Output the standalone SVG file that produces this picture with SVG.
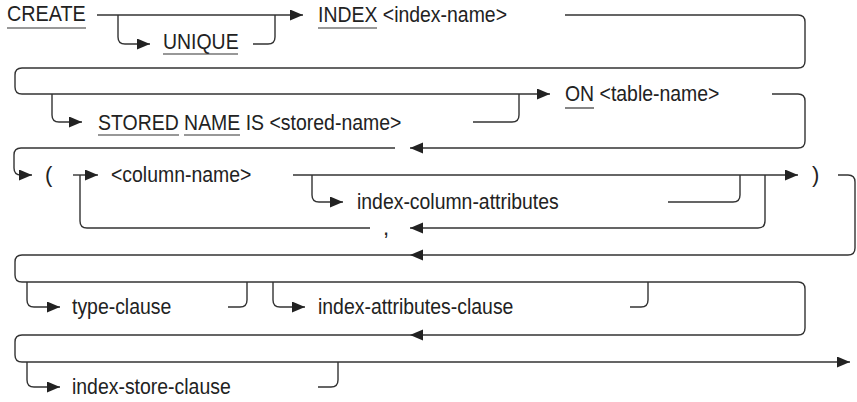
<svg xmlns="http://www.w3.org/2000/svg" width="857" height="402" viewBox="0 0 857 402">
<style>
.ln{fill:none;stroke:#333;stroke-width:1.4}
.ul{stroke:#333;stroke-width:1.2}
text{font-family:"Liberation Sans",Arial,sans-serif;font-size:22px;fill:#222}
</style>
<defs>
<marker id="ah" markerUnits="userSpaceOnUse" markerWidth="14" markerHeight="12" refX="13" refY="5.5" orient="auto"><path d="M0,0 L13,5.5 L0,11 z" fill="#222"/></marker>
</defs>
<rect width="857" height="402" fill="#fff"/>
<g id="connectors">
<path class="ln" d="M97 15 L303 15" marker-end="url(#ah)"/>
<path class="ln" d="M118 15 L118 37 Q118 44 125 44 L150 44" marker-end="url(#ah)"/>
<path class="ln" d="M253 44 L268 44 Q275 44 275 37 L275 15"/>
<path class="ln" d="M565 15 L798 15 Q805 15 805 22 L805 61 Q805 68 798 68 L22 68 Q15 68 15 75 L15 87 Q15 94 22 94 L550 94" marker-end="url(#ah)"/>
<path class="ln" d="M52 94 L52 115 Q52 122 59 122 L82 122" marker-end="url(#ah)"/>
<path class="ln" d="M473 122 L512 122 Q519 122 519 115 L519 94"/>
<path class="ln" d="M772 94 L798 94 Q805 94 805 101 L805 141 Q805 148 798 148 L410 148" marker-end="url(#ah)"/>
<path class="ln" d="M395 148 L21 148 Q14 148 14 155 L14 168 Q14 175 21 175 L32 175" marker-end="url(#ah)"/>
<path class="ln" d="M73 175 L98 175" marker-end="url(#ah)"/>
<path class="ln" d="M80 175 L80 221 Q80 228 87 228 L370 228"/>
<path class="ln" d="M765 175 L765 221 Q765 228 758 228 L410 228" marker-end="url(#ah)"/>
<path class="ln" d="M293 175 L798 175" marker-end="url(#ah)"/>
<path class="ln" d="M312 175 L312 195 Q312 202 319 202 L343 202" marker-end="url(#ah)"/>
<path class="ln" d="M668 202 L733 202 Q740 202 740 195 L740 175"/>
<path class="ln" d="M838 175 L848 175 Q855 175 855 182 L855 248 Q855 255 848 255 L410 255" marker-end="url(#ah)"/>
<path class="ln" d="M410 255 L22 255 Q15 255 15 262 L15 275 Q15 282 22 282 L798 282 Q805 282 805 289 L805 328 Q805 335 798 335 L410 335" marker-end="url(#ah)"/>
<path class="ln" d="M27 282 L27 300 Q27 307 34 307 L60 307" marker-end="url(#ah)"/>
<path class="ln" d="M228 307 L240 307 Q247 307 247 300 L247 282"/>
<path class="ln" d="M273 282 L273 300 Q273 307 280 307 L305 307" marker-end="url(#ah)"/>
<path class="ln" d="M630 307 L641 307 Q648 307 648 300 L648 282"/>
<path class="ln" d="M410 335 L22 335 Q15 335 15 342 L15 355 Q15 362 22 362 L850 362" marker-end="url(#ah)"/>
<path class="ln" d="M27 362 L27 380 Q27 387 34 387 L60 387" marker-end="url(#ah)"/>
<path class="ln" d="M318 387 L331 387 Q338 387 338 380 L338 362"/>
</g>
<g id="create"><text x="7" y="21" textLength="78.8" lengthAdjust="spacingAndGlyphs">CREATE</text><line class="ul" x1="7" y1="28" x2="86" y2="28"/></g>
<g id="unique"><text x="163" y="49" textLength="75.6" lengthAdjust="spacingAndGlyphs">UNIQUE</text><line class="ul" x1="163" y1="54" x2="238" y2="54"/></g>
<g id="index"><text x="318" y="21.5" textLength="189" lengthAdjust="spacingAndGlyphs">INDEX &lt;index-name&gt;</text><line class="ul" x1="318" y1="28" x2="377" y2="28"/></g>
<g id="stored"><text x="98" y="129.5" textLength="303.4" lengthAdjust="spacingAndGlyphs">STORED NAME IS &lt;stored-name&gt;</text><line class="ul" x1="98" y1="135" x2="179" y2="135"/><line class="ul" x1="184" y1="135" x2="240" y2="135"/></g>
<g id="on"><text x="565" y="101" textLength="154.4" lengthAdjust="spacingAndGlyphs">ON &lt;table-name&gt;</text><line class="ul" x1="565" y1="108" x2="594" y2="108"/></g>
<g id="lparen"><text x="45" y="182">(</text></g>
<g id="column-name"><text x="111" y="182" textLength="140.4" lengthAdjust="spacingAndGlyphs">&lt;column-name&gt;</text></g>
<g id="index-column-attributes"><text x="357" y="208.5" textLength="201.7" lengthAdjust="spacingAndGlyphs">index-column-attributes</text></g>
<g id="comma"><text x="383" y="235">,</text></g>
<g id="rparen"><text x="812" y="182">)</text></g>
<g id="type-clause"><text x="72" y="313.5" textLength="99.3" lengthAdjust="spacingAndGlyphs">type-clause</text></g>
<g id="index-attributes-clause"><text x="318" y="313.5" textLength="195.4" lengthAdjust="spacingAndGlyphs">index-attributes-clause</text></g>
<g id="index-store-clause"><text x="72" y="393.5" textLength="158.7" lengthAdjust="spacingAndGlyphs">index-store-clause</text></g>
</svg>
